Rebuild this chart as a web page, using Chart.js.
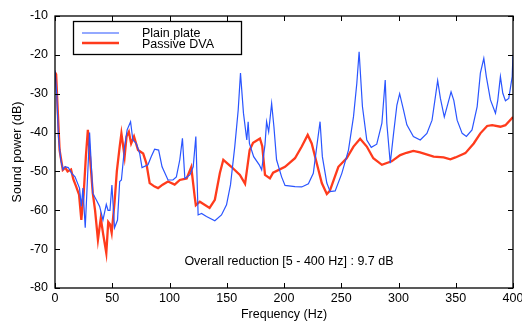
<!DOCTYPE html>
<html>
<head>
<meta charset="utf-8">
<script src="https://cdn.jsdelivr.net/npm/chart.js@4"></script>
<style>
  html, body { margin: 0; padding: 0; background: #fff; }
  #wrap { width: 522px; height: 322px; }
</style>
</head>
<body>
<div id="wrap"><canvas id="chart" width="522" height="322"></canvas></div>
<script>
// values
const plainFreq = [0, 1.5, 3, 5, 7, 8.7, 11.6, 14.6, 17.5, 21.4, 23, 24.4, 26.4, 27.8, 30.2, 33, 36, 39, 41.9, 44.8,
  46.3, 48, 49.7, 52, 54.6, 56.5, 58, 60.8, 63, 66, 68, 71, 74, 76, 81.2, 84, 87, 90.5, 93.5, 98.7,
  103, 106, 109, 111.3, 113.4, 117.8, 120.7, 123, 125, 128, 132.3, 139.6, 145.4, 149.8, 153.3, 157, 160, 162, 164.6, 167.5,
  168.7, 169.8, 173.5, 178.4, 180.5, 183.4, 184.8, 186.6, 189.2, 191.2, 193.5, 197.9, 200.9, 209.6, 215.5, 221.3, 225.6, 228.6, 231.5, 233.5,
  237.4, 240.3, 244.7, 250.5, 256.3, 260.7, 263.6, 265.6, 268.5, 272.3, 276.2, 281, 285.5, 288.4, 289.8, 292.8, 295.7, 298.6, 301, 304.4,
  307.3, 313, 319, 324.8, 329.3, 332.2, 334.2, 336.6, 340, 343.2, 345.9, 348.3, 351.2, 355.6, 359.3, 364.2, 368.7, 371.5, 374.5, 376.7,
  380.3, 384.7, 386.7, 389, 391.1, 393.4, 396.3, 399.3, 400];
const plainPower = [-24, -30, -41, -47, -49.5, -48.8, -49, -50.5, -51.4, -54.3, -59, -54.3, -64.5, -55.6, -40, -55.6, -57.3, -59, -62.5, -58.5,
  -60, -60, -53.5, -64.5, -62.5, -52.6, -52.2, -43.6, -39.3, -37.2, -41.9, -42.8, -45.4, -49, -48.3, -46.2, -44.3, -44.5, -48.8, -52.2,
  -52.2, -51.4, -47, -41.5, -51.8, -50.9, -48.8, -41, -61.2, -60.8, -61.6, -62.7, -61.2, -58.6, -53.4, -43.6, -34.2, -24.7, -35, -41.9,
  -37.2, -42.8, -46.2, -48.3, -49.6, -43.1, -37.2, -39.8, -32.5, -38.5, -47, -51.4, -53.6, -53.9, -54, -53.2, -50.5, -43.6, -37.2, -46.2,
  -53, -55.2, -55, -50.5, -44.5, -35.9, -27.3, -19.2, -33.3, -41.9, -43.8, -43, -37.6, -26.5, -37.6, -47.9, -40.2, -32.9, -30, -34.2,
  -38, -41, -41.9, -40.2, -36.8, -30.8, -26.6, -31.2, -36, -32.5, -29.5, -31.7, -36.8, -40.2, -41, -39.3, -33.3, -24.7, -20.9, -25.6,
  -31.6, -35, -31.7, -25.6, -29.9, -31.8, -31.2, -25.6, -20];

const dvaFreq = [0, 1, 2.5, 4, 6.8, 9, 11, 14, 16, 18.5, 21, 23, 25, 27, 28.7, 30.5, 33, 35, 37.5, 40,
  42, 44.8, 46.5, 48, 49.5, 52, 54, 56.5, 58, 60.8, 62.5, 64.5, 66.5, 69, 72.5, 77, 79.8, 82.7, 87, 90,
  94, 98.7, 104.5, 109, 115, 119, 122, 123, 126.5, 135, 139.6, 144, 147, 154, 161.5, 166, 170, 173, 179, 181,
  183.4, 187.7, 190.5, 200.9, 209.6, 215.5, 220.7, 224.2, 228.6, 233, 237.4, 240, 247.5, 254.7, 260.7, 266.5, 272.3, 278, 285.5, 294,
  301.5, 307, 313, 318.8, 330.7, 339.4, 345.3, 349.7, 358.4, 365.7, 371.5, 377.4, 381.8, 389, 393.4, 400];
const dvaPower = [-24.5, -25, -35, -44.5, -49.6, -49, -50, -49.5, -52, -53.9, -56, -62.5, -56, -46, -39.3, -46, -55.6, -60, -67.6, -62,
  -66, -71, -63, -63.6, -65.8, -58, -50, -43.6, -40.2, -46.2, -41, -39.8, -42.8, -41, -44.5, -45.4, -47.9, -53, -53.9, -54.3,
  -53.4, -52.6, -53.4, -52.2, -51.8, -48.9, -56.5, -58.7, -57.8, -59.4, -57.3, -50.4, -47, -48.8, -50.9, -53.2, -44.5, -42.6, -41.5, -43.5,
  -50.9, -51.8, -50.3, -48.8, -46.6, -43.6, -40.6, -42.8, -47.9, -53, -55.8, -55, -48.8, -46.6, -43.6, -41.6, -43.6, -46.6, -48.3, -47.4,
  -45.8, -45.2, -44.7, -45.1, -46.2, -46.4, -46.9, -46.4, -45.3, -42.8, -40.2, -38.3, -38.1, -38.5, -38.1, -36];

const seriesNames = ['Plain plate', 'Passive DVA'];
const xTicks = [0, 50, 100, 150, 200, 250, 300, 350, 400];
const yTicks = [-80, -70, -60, -50, -40, -30, -20, -10];
const noteText = 'Overall reduction [5 - 400 Hz] : 9.7 dB';

const FONT = 'Liberation Sans, Arial, Helvetica, sans-serif';
const FS = 12.5;
const BLUE = '#2a55ff';
const RED = '#ff3b1c';

// frame, inward ticks on all four sides, legend box and the note
const frameAndTicks = {
  id: 'frameAndTicks',
  afterDatasetsDraw(chart) {
    const { ctx, chartArea: a, scales: { x, y } } = chart;
    ctx.save();
    ctx.strokeStyle = '#000';
    ctx.lineWidth = 1.3;
    ctx.strokeRect(a.left, a.top, a.right - a.left, a.bottom - a.top);
    ctx.lineWidth = 1;
    ctx.beginPath();
    xTicks.forEach(v => {
      const px = Math.round(x.getPixelForValue(v)) + 0.5;
      ctx.moveTo(px, a.bottom); ctx.lineTo(px, a.bottom - 5);
      ctx.moveTo(px, a.top); ctx.lineTo(px, a.top + 5);
    });
    yTicks.forEach(v => {
      const py = Math.round(y.getPixelForValue(v)) + 0.5;
      ctx.moveTo(a.left, py); ctx.lineTo(a.left + 5, py);
      ctx.moveTo(a.right, py); ctx.lineTo(a.right - 5, py);
    });
    ctx.stroke();

    // legend box
    ctx.fillStyle = '#fff';
    ctx.fillRect(73, 21, 169, 33);
    ctx.lineWidth = 1.3;
    ctx.strokeStyle = '#000';
    ctx.strokeRect(73.5, 21.5, 168, 33);
    ctx.lineWidth = 1.2;
    ctx.strokeStyle = BLUE;
    ctx.beginPath(); ctx.moveTo(82, 33); ctx.lineTo(119, 33); ctx.stroke();
    ctx.lineWidth = 2.3;
    ctx.strokeStyle = RED;
    ctx.beginPath(); ctx.moveTo(82, 43); ctx.lineTo(119, 43); ctx.stroke();
    ctx.fillStyle = '#000';
    ctx.font = FS + 'px ' + FONT;
    ctx.textAlign = 'left';
    ctx.textBaseline = 'alphabetic';
    ctx.fillText(seriesNames[0], 142, 37);
    ctx.fillText(seriesNames[1], 142, 48);

    // note inside the plot
    ctx.fillText(noteText, x.getPixelForValue(113), y.getPixelForValue(-74.1));
    ctx.restore();
  }
};

new Chart(document.getElementById('chart'), {
  type: 'line',
  data: {
    datasets: [
      {
        label: seriesNames[0],
        data: plainFreq.map((f, i) => ({ x: f, y: plainPower[i] })),
        borderColor: BLUE,
        borderWidth: 1.2,
        pointRadius: 0,
        tension: 0
      },
      {
        label: seriesNames[1],
        data: dvaFreq.map((f, i) => ({ x: f, y: dvaPower[i] })),
        borderColor: RED,
        borderWidth: 2.3,
        pointRadius: 0,
        tension: 0
      }
    ]
  },
  options: {
    responsive: false,
    animation: false,
    layout: { padding: { top: 16, right: 9, left: 0, bottom: 0 } },
    plugins: {
      legend: { display: false },
      tooltip: { enabled: false }
    },
    scales: {
      x: {
        type: 'linear',
        min: 0,
        max: 400,
        afterFit: s => { s.height = 34; s.paddingLeft = 0; s.paddingRight = 0; },
        afterBuildTicks: s => { s.ticks = xTicks.map(v => ({ value: v })); },
        grid: { display: false, drawTicks: false },
        border: { display: false },
        ticks: { color: '#000', padding: 3, font: { family: FONT, size: FS }, maxRotation: 0 },
        title: { display: true, text: 'Frequency (Hz)', color: '#000', padding: 0, font: { family: FONT, size: FS } }
      },
      y: {
        min: -80,
        max: -10,
        afterFit: s => { s.width = 55; s.paddingTop = 0; s.paddingBottom = 0; },
        afterBuildTicks: s => { s.ticks = yTicks.map(v => ({ value: v })); },
        grid: { display: false, drawTicks: false },
        border: { display: false },
        ticks: { color: '#000', padding: 7, font: { family: FONT, size: FS } },
        title: { display: true, text: 'Sound power (dB)', color: '#000', padding: { top: 10, bottom: 0 }, font: { family: FONT, size: FS } }
      }
    }
  },
  plugins: [frameAndTicks]
});
</script>
</body>
</html>
